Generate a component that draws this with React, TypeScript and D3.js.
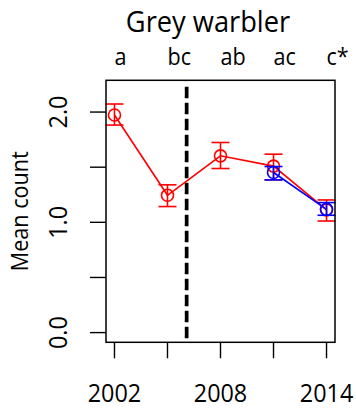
import React from 'react'
import * as d3 from 'd3'

const years = [2002, 2005, 2008, 2011, 2014]
const letters = ['a', 'bc', 'ab', 'ac', 'c*']
const redMean = [1.973, 1.245, 1.603, 1.51, 1.113]
const redLow = [1.882, 1.143, 1.488, 1.385, 1.012]
const redHigh = [2.073, 1.34, 1.724, 1.618, 1.203]
const blueYears = [2011, 2014]
const blueMean = [1.452, 1.118]
const blueLow = [1.385, 1.064]
const blueHigh = [1.506, 1.179]
const yTicks = [0, 0.5, 1, 1.5, 2]
const yLabelTicks = [0, 1, 2]
const xLabelYears = [2002, 2008, 2014]
const breakYear = 2006

const W = 356
const H = 408
const margin = { top: 80.3, right: 21, bottom: 65.7, left: 106 }
const FONT = '"Open Sans", sans-serif'
const SX = 0.9

function Series({ xs, mean, low, high, color, x, y }: any) {
  const line = d3.line<number>().x((_, i) => x(xs[i])).y(d => y(d))
  return (
    <g>
      <path d={line(mean) ?? ''} fill="none" stroke={color} strokeWidth={1.6} />
      {xs.map((yr: number, i: number) => (
        <g key={yr} stroke={color} strokeWidth={1.6} fill="none">
          <line x1={x(yr)} x2={x(yr)} y1={y(low[i])} y2={y(high[i])} />
          <line x1={x(yr) - 9} x2={x(yr) + 9} y1={y(low[i])} y2={y(low[i])} />
          <line x1={x(yr) - 9} x2={x(yr) + 9} y1={y(high[i])} y2={y(high[i])} />
          <circle cx={x(yr)} cy={y(mean[i])} r={6} />
        </g>
      ))}
    </g>
  )
}

export default function App() {
  const xPad = (2014 - 2002) * 0.04
  const x = d3.scaleLinear().domain([2002 - xPad, 2014 + xPad]).range([margin.left, W - margin.right])
  const yPad = 2.2 * 0.04
  const y = d3.scaleLinear().domain([-yPad, 2.2 + yPad]).range([H - margin.bottom, margin.top])
  const [x0, x1] = x.range()
  const [yb, yt] = y.range()
  const fmt = d3.format('.1f')

  return (
    <svg width={W} height={H} style={{ position: 'absolute', left: 0, top: 0, background: '#fff' }}
      fontFamily={FONT}>
      <rect width={W} height={H} fill="#fff" />
      {/* title */}
      <text transform={`translate(208,31.7) scale(0.94,1)`} textAnchor="middle" fontSize={29}>Grey warbler</text>
      {/* significance letters */}
      {years.map((yr, i) => (
        <text key={yr} transform={`translate(${x(yr)},65) scale(${SX},1)`} fontSize={24}>{letters[i]}</text>
      ))}
      {/* break line */}
      <line x1={x(breakYear)} x2={x(breakYear)} y1={yt} y2={yb} stroke="#44dd44" strokeWidth={1} strokeDasharray="1 7" />
      <line x1={x(breakYear) + 1.5} x2={x(breakYear) + 1.5} y1={yt + 6.4} y2={yb - 4} stroke="#000"
        strokeWidth={3.7} strokeDasharray="11.5 4.5" />
      <Series xs={years} mean={redMean} low={redLow} high={redHigh} color="#ff0000" x={x} y={y} />
      <Series xs={blueYears} mean={blueMean} low={blueLow} high={blueHigh} color="#0000ff" x={x} y={y} />
      {/* frame */}
      <rect x={x0} y={yt} width={x1 - x0} height={yb - yt} fill="none" stroke="#000" strokeWidth={1.5} />
      {/* y axis */}
      {yTicks.map(t => (
        <line key={t} x1={x0 - 16} x2={x0} y1={y(t)} y2={y(t)} stroke="#000" strokeWidth={1.4} />
      ))}
      {yLabelTicks.map(t => (
        <text key={t} transform={`translate(66.7,${y(t)}) rotate(-90) scale(${SX},1)`} textAnchor="middle" fontSize={26}>
          {fmt(t)}
        </text>
      ))}
      <text transform={`translate(28.3,${(yt + yb) / 2}) rotate(-90) scale(${SX},1)`} textAnchor="middle" fontSize={24}>
        Mean count
      </text>
      {/* x axis */}
      {years.map(t => (
        <line key={t} x1={x(t)} x2={x(t)} y1={yb} y2={yb + 16} stroke="#000" strokeWidth={1.4} />
      ))}
      {xLabelYears.map(t => (
        <text key={t} transform={`translate(${x(t)},401.7) scale(${SX},1)`} textAnchor="middle" fontSize={26}>{t}</text>
      ))}
    </svg>
  )
}
